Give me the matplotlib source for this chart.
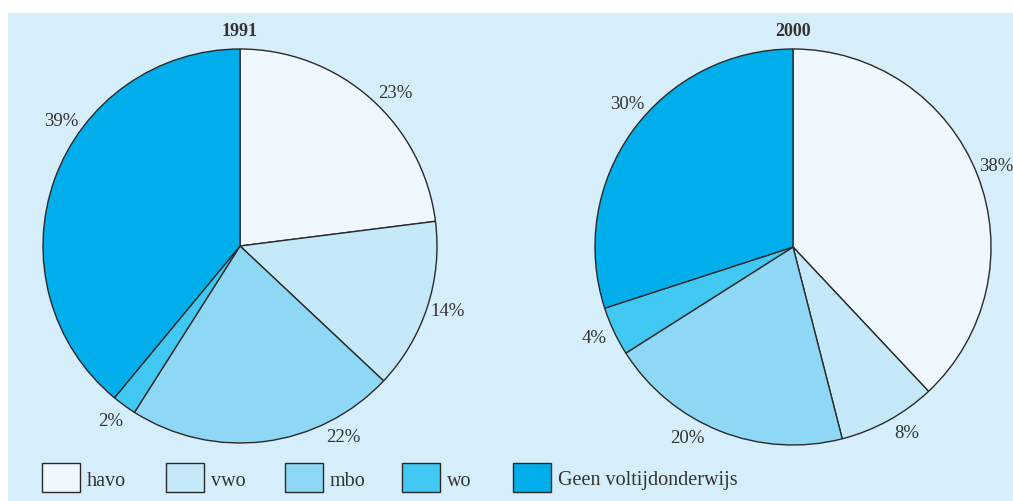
import matplotlib
matplotlib.use("Agg")
import matplotlib.pyplot as plt
from matplotlib.patches import Rectangle
import numpy as np

categories = ["havo", "vwo", "mbo", "wo", "Geen voltijdonderwijs"]
years = ["1991", "2000"]
values_1991 = [23, 14, 22, 2, 39]
values_2000 = [38, 8, 20, 4, 30]
pct_labels_1991 = ["23%", "14%", "22%", "2%", "39%"]
pct_labels_2000 = ["38%", "8%", "20%", "4%", "30%"]

colors = ["#EEF8FE", "#C6E9F9", "#8ED8F5", "#41C9F3", "#00AEEB"]
bg = "#D5EEFA"
edge = "#2a2a2a"

W, H = 1013, 501
fig = plt.figure(figsize=(W / 100, H / 100), dpi=100)
ax = fig.add_axes([0, 0, 1, 1])
ax.set_xlim(0, W)
ax.set_ylim(0, H)
ax.set_aspect("equal")
ax.axis("off")

# background panel
ax.add_patch(Rectangle((8, 0), W - 8, H - 13, facecolor=bg, edgecolor="none", zorder=0))

font = "Liberation Serif"

# layout: centers (pixels, y up), radius, label angles (deg)
pies = [
    dict(vals=values_1991, labels=pct_labels_1991, title=years[0], center=(240, H - 246), r=197,
         label_angles=[44.5, -17.6, -61.6, -126.4, 145.1]),
    dict(vals=values_2000, labels=pct_labels_2000, title=years[1], center=(793, H - 247), r=198,
         label_angles=[21.6, -58.7, -118.8, 204.8, 139.3]),
]

for p in pies:
    ax.pie(p["vals"], colors=colors, startangle=90, counterclock=False,
           center=p["center"], radius=p["r"], frame=True,
           wedgeprops=dict(edgecolor=edge, linewidth=1.0))
    cx, cy = p["center"]
    for lab, ang in zip(p["labels"], p["label_angles"]):
        d = p["r"] * 1.105
        x = cx + d * np.cos(np.radians(ang))
        y = cy + d * np.sin(np.radians(ang))
        ax.text(x, y, lab, ha="center", va="center", fontsize=13.5, family=font, color="#333333")
    ax.text(cx, H - 31, p["title"], ha="center", va="center", fontsize=13,
            fontweight="bold", family=font, color="#333333")

ax.set_xlim(0, W)
ax.set_ylim(0, H)
ax.set_aspect("equal")
ax.axis("off")

# legend
box_x = [42, 166, 285, 402, 513]
for c, lab, bx in zip(colors, categories, box_x):
    ax.add_patch(Rectangle((bx, H - 492), 38, 29, facecolor=c, edgecolor=edge, linewidth=1.0, zorder=3))
    ax.text(bx + 45, H - 481, lab, ha="left", va="center", fontsize=14.5, family=font, color="#333333")

fig.savefig("out.png", dpi=100)
